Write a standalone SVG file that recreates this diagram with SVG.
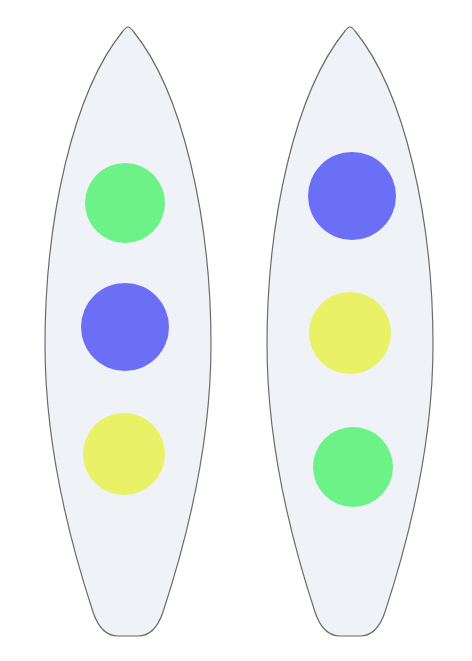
<svg xmlns="http://www.w3.org/2000/svg" width="472" height="661" viewBox="0 0 472 661">
<style>
.board{fill:#eff3f8;stroke:#6b6b6b;stroke-width:1.2}
.g{fill:#6cf287}.b{fill:#6b6ff5}.y{fill:#e9f266}
</style>
<defs>
<path id="bd" d="M128,27 Q130,27 133,31 C183,92 211,220 211,345 C211,450 185,545 163,612 Q155,636 138,636 L118,636 Q101,636 93,612 C71,545 45,450 45,345 C45,220 73,92 123,31 Q126,27 128,27 Z"/>
</defs>
<g id="board-left">
<use href="#bd" class="board"/>
<circle class="g" cx="125" cy="203" r="40"/>
<circle class="b" cx="125" cy="327" r="44"/>
<circle class="y" cx="124" cy="454" r="41"/>
</g>
<g id="board-right" transform="translate(222,0)">
<use href="#bd" class="board"/>
<circle class="b" cx="130" cy="196" r="44"/>
<circle class="y" cx="128" cy="333" r="41"/>
<circle class="g" cx="131" cy="467" r="40"/>
</g>
<g id="connectors"/>
</svg>
